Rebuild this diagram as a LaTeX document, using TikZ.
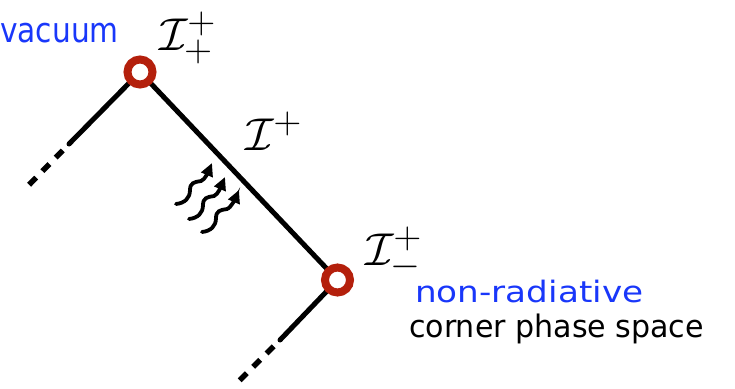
\documentclass[tikz,border=0pt]{standalone}
\usepackage{fontspec}
\setmainfont{DejaVu Sans}
\usetikzlibrary{arrows.meta}
\definecolor{ringred}{RGB}{180,32,12}
\definecolor{labelblue}{RGB}{25,55,250}
\newcommand{\bigmath}[1]{\scalebox{1.85}{\Huge $#1$}}
\newcommand{\wavyarrow}[2]{\draw[wave] (#1) .. controls +(9,-1) and +(0,8) .. ++(14,-14) .. controls +(0,-7) and +(-7,1) .. ++(11,-9) .. controls +(4,-1) and +(-3,7) .. (#2);}
\tikzset{
  ring/.style={draw=ringred,line width=8pt,circle,minimum size=25pt,inner sep=0pt,fill=white},
  edge/.style={line width=5pt,line cap=round},
  tail/.style={line width=5.5pt,dash pattern=on 10pt off 9pt,dash phase=10pt},
  wave/.style={line width=3.8pt,line cap=round,-{Triangle[length=13pt,width=12pt]}},
  mathlbl/.style={anchor=base west,inner sep=0pt},
  txt/.style={anchor=base west,inner sep=0pt}
}
\begin{document}
\begin{tikzpicture}[x=1pt,y=-1pt]
\useasboundingbox (0,0) rectangle (735,388);
% corner points
\coordinate (top) at (140,72);
\coordinate (bot) at (337.5,280);
\coordinate (lt) at (69,144);
\coordinate (ltend) at (24,190);
\coordinate (lb) at (280,340);
\coordinate (lbend) at (234,386);
% lines
\draw[edge] (top) -- (bot);
\draw[edge] (top) -- (lt);
\draw[tail] (lt) -- (ltend);
\draw[edge] (bot) -- (lb);
\draw[tail] (lb) -- (lbend);
% rings
\node[ring] (ptop) at (top) {};
\node[ring] (pbot) at (bot) {};
% wavy arrows
\coordinate (w1a) at (176,204); \coordinate (w1b) at (212,163);
\coordinate (w2a) at (189,219); \coordinate (w2b) at (225,177);
\coordinate (w3a) at (202,232); \coordinate (w3b) at (239,190);
\wavyarrow{w1a}{w1b}
\wavyarrow{w2a}{w2b}
\wavyarrow{w3a}{w3b}
% labels
\node[mathlbl] (Ipp) at (159,50) {\bigmath{\mathcal{I}^+_+}};
\node[mathlbl] (Ip) at (245,150) {\bigmath{\mathcal{I}^+}};
\node[mathlbl] (Ipm) at (365,265) {\bigmath{\mathcal{I}^+_-}};
\node[txt,text=labelblue] (vac) at (0,42) {\scalebox{0.86}[1]{\fontsize{34.5}{38}\selectfont vacuum}};
\node[txt,text=labelblue] (nonrad) at (415,302) {\scalebox{1.16}[1]{\fontsize{29.5}{34}\selectfont non-radiative}};
\node[txt] (corner) at (409,337) {\scalebox{0.97}[1]{\fontsize{31}{35}\selectfont corner phase space}};
\end{tikzpicture}
\end{document}
